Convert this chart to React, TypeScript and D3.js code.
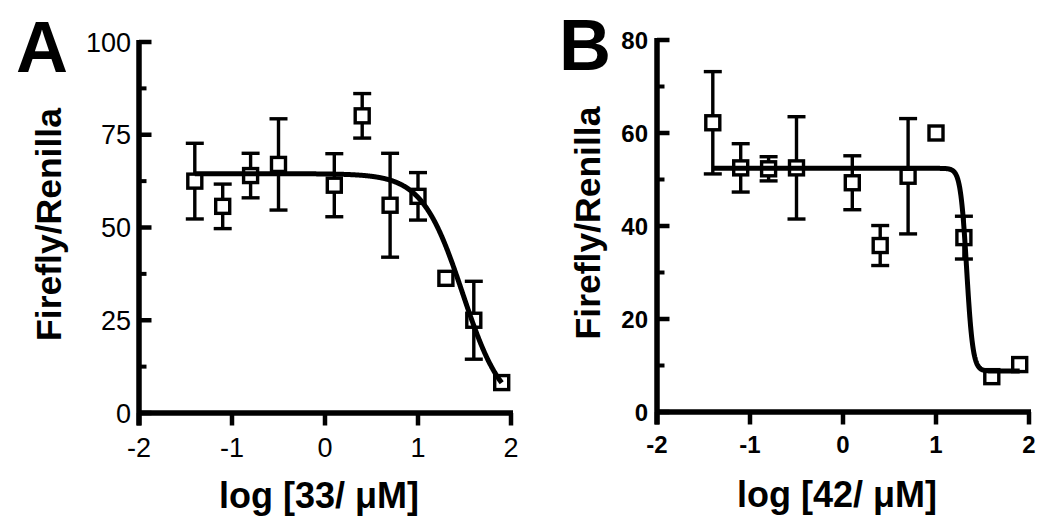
import React from 'react'
import * as d3 from 'd3'

const WIDTH = 1050
const HEIGHT = 527
const FONT = '"Liberation Sans", Arial, Helvetica, sans-serif'

// log10 of concentration in µM, same doses in both panels
const DOSES = [-1.4, -1.1, -0.8, -0.5, 0.1, 0.4, 0.7, 1.0, 1.3, 1.6, 1.9]
const X_TICKS = [-2, -1, 0, 1, 2]

// panel A, compound 33
const A_MEAN = [62.5, 55.7, 64, 67, 61.4, 80.1, 56, 58.4, 36.3, 25, 8.2]
const A_SEM = [10.2, 6, 6, 12.3, 8.5, 6, 14, 6.4, 0, 10.5, 0]
const A_Y_TICKS = [0, 25, 50, 75, 100]
const A_Y_MINOR = [12.5, 37.5, 62.5, 87.5]
const A_FIT = { top: 64.5, bottom: 0, logIC50: 1.48, hill: 2 }

// panel B, compound 42
const B_MEAN = [62.2, 52.5, 52.3, 52.5, 49.3, 35.8, 50.7, 60, 37.5, 7.6, 10.2]
const B_SEM = [11, 5.2, 2.6, 11, 5.8, 4.3, 12.4, 0, 4.6, 0, 0]
const B_Y_TICKS = [0, 20, 40, 60, 80]
const B_Y_MINOR = [10, 30, 50, 70]
const B_FIT = { top: 52.4, bottom: 8.8, logIC50: 1.33, hill: 13 }

const AXIS_W = 5.5
const TICK_LEN = 12.5
const MINOR_LEN = 7.5
const BOX = 14
const CAP = 9

function doseResponse(fit, x) {
  return fit.bottom + (fit.top - fit.bottom) / (1 + Math.pow(10, fit.hill * (x - fit.logIC50)))
}

function Panel({ letter, letterX, letterY, mean, sem, yTicks, yMinor, fit, xTitle,
  box, tickSize, tickWeight, labelGap, xLabelDy, titleX, xTitleY }) {
  const x = d3.scaleLinear().domain([-2, 2]).range([box.left, box.right])
  const y = d3.scaleLinear().domain([0, yTicks[yTicks.length - 1]]).range([box.bottom, box.top])
  const x0 = x(-2)
  const y0 = y(0)

  const pts = d3.range(DOSES[0], DOSES[DOSES.length - 1], 0.004)
  pts.push(DOSES[DOSES.length - 1])
  const line = d3.line<number>()
    .x(d => x(d))
    .y(d => y(doseResponse(fit, d)))

  return (
    <g fontFamily={FONT} fill="#000">
      <text x={letterX} y={letterY} fontSize={72} fontWeight="bold">{letter}</text>

      {/* axes */}
      <line x1={x0} x2={x0} y1={y(yTicks[yTicks.length - 1]) - 2} y2={y0 + TICK_LEN}
        stroke="#000" strokeWidth={AXIS_W} />
      <line x1={x0} x2={x(2) + 2} y1={y0} y2={y0} stroke="#000" strokeWidth={AXIS_W} />
      {yTicks.map(t => (
        <g key={'y' + t}>
          <line x1={x0} x2={x0 + TICK_LEN} y1={y(t)} y2={y(t)}
            stroke="#000" strokeWidth={4.5} />
          <text x={x0 - labelGap} y={y(t)} dy="0.36em" textAnchor="end"
            fontSize={tickSize} fontWeight={tickWeight}>{t}</text>
        </g>
      ))}
      {yMinor.map(t => (
        <line key={'m' + t} x1={x0} x2={x0 + MINOR_LEN} y1={y(t)} y2={y(t)}
          stroke="#000" strokeWidth={4} />
      ))}
      {X_TICKS.map(t => (
        <g key={'x' + t}>
          <line x1={x(t)} x2={x(t)} y1={y0} y2={y0 + TICK_LEN} stroke="#000" strokeWidth={4.5} />
          <text x={x(t)} y={y0 + xLabelDy} textAnchor="middle"
            fontSize={tickSize} fontWeight={tickWeight}>{t}</text>
        </g>
      ))}

      {/* error bars */}
      {DOSES.map((d, i) => sem[i] > 0 ? (
        <g key={'e' + i} stroke="#000" strokeWidth={3.4}>
          <line x1={x(d)} x2={x(d)} y1={y(mean[i] + sem[i])} y2={y(mean[i] - sem[i])} />
          <line x1={x(d) - CAP} x2={x(d) + CAP} y1={y(mean[i] + sem[i])} y2={y(mean[i] + sem[i])} />
          <line x1={x(d) - CAP} x2={x(d) + CAP} y1={y(mean[i] - sem[i])} y2={y(mean[i] - sem[i])} />
        </g>
      ) : null)}

      {/* open squares */}
      {DOSES.map((d, i) => (
        <rect key={'s' + i} x={x(d) - BOX / 2} y={y(mean[i]) - BOX / 2} width={BOX} height={BOX}
          fill="#fff" stroke="#000" strokeWidth={3.4} />
      ))}

      <path d={line(pts)} fill="none" stroke="#000" strokeWidth={5} strokeLinejoin="round" />

      <text x={(box.left + box.right) / 2 - 6} y={xTitleY} textAnchor="middle"
        fontSize={36} fontWeight="bold">{xTitle}</text>
      <text transform={`translate(${titleX},${(box.top + box.bottom) / 2 - 3}) rotate(-90)`}
        textAnchor="middle" fontSize={35.5} fontWeight="bold">Firefly/Renilla</text>
    </g>
  )
}

export default function App() {
  return (
    <svg width={WIDTH} height={HEIGHT} style={{ position: 'absolute', left: 0, top: 0, background: '#fff' }}>
      <rect width={WIDTH} height={HEIGHT} fill="#fff" />
      <Panel letter="A" letterX={16} letterY={72}
        mean={A_MEAN} sem={A_SEM} yTicks={A_Y_TICKS} yMinor={A_Y_MINOR} fit={A_FIT}
        xTitle="log [33/ μM]"
        box={{ left: 139, right: 511, top: 42, bottom: 413 }}
        tickSize={27} tickWeight="normal" labelGap={8} xLabelDy={44}
        titleX={61} xTitleY={508} />
      <Panel letter="B" letterX={559} letterY={70}
        mean={B_MEAN} sem={B_SEM} yTicks={B_Y_TICKS} yMinor={B_Y_MINOR} fit={B_FIT}
        xTitle="log [42/ μM]"
        box={{ left: 657, right: 1029, top: 40, bottom: 412 }}
        tickSize={24} tickWeight="bold" labelGap={9} xLabelDy={41}
        titleX={600} xTitleY={507} />
    </svg>
  )
}
